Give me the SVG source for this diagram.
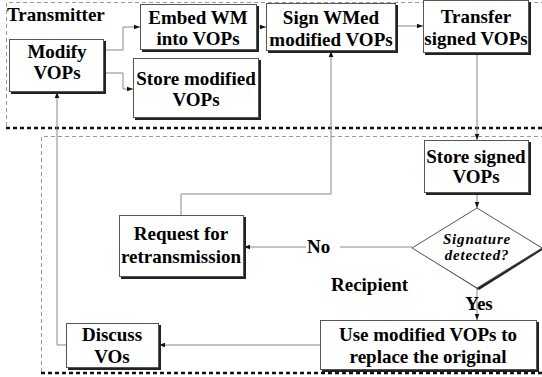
<svg xmlns="http://www.w3.org/2000/svg" width="542" height="377" viewBox="0 0 542 377">
<defs>
<style>
.t{text-anchor:middle}
.it{font-style:italic;font-size:15px;text-anchor:middle;letter-spacing:0.8px}
.box{fill:#fff;stroke:#555;stroke-width:1}
.sh{fill:#222}
.c{fill:none;stroke:#888;stroke-width:1}
.dz{fill:none;stroke:#999;stroke-width:1;stroke-dasharray:4 3}
.db{fill:none;stroke:#111;stroke-width:2.5;stroke-dasharray:4 3}
</style>
<marker id="a" viewBox="0 0 8 8" refX="8" refY="4" markerWidth="6" markerHeight="6" orient="auto" markerUnits="userSpaceOnUse">
<path d="M0,1 L8,4 L0,7 Z" fill="#111"/>
</marker>
</defs>
<rect width="542" height="377" fill="#fff"/>
<g font-family="Liberation Serif, Times New Roman, serif" font-weight="bold" font-size="19">

<g id="regions">
<path class="dz" d="M545,2.5 H6.5 V127"/>
<path class="db" d="M6,128 H545"/>
<path class="dz" d="M545,136.5 H41.5 V372"/>
<path class="db" d="M41,373 H545"/>
<text x="7" y="21">Transmitter</text>
<text x="331" y="291">Recipient</text>
</g>

<g id="connectors">
<path class="c" d="M104,50 H123 V27 H140" marker-end="url(#a)"/>
<path class="c" d="M104,73 H123 V89 H133" marker-end="url(#a)"/>
<path class="c" d="M257,27 H266" marker-end="url(#a)"/>
<path class="c" d="M396,26 H423" marker-end="url(#a)"/>
<path class="c" d="M477,53 V140" marker-end="url(#a)"/>
<path class="c" d="M477,193 V208" marker-end="url(#a)"/>
<path class="c" d="M412,247 H340 M306,247 H244" marker-end="url(#a)"/>
<path class="c" d="M181,215 V194 H331 V51" marker-end="url(#a)"/>
<path class="c" d="M477,288 V320" marker-end="url(#a)"/>
<path class="c" d="M320,345 H159" marker-end="url(#a)"/>
<path class="c" d="M66,345 H57 V92" marker-end="url(#a)"/>
<text x="307" y="253">No</text>
<text class="t" x="479" y="310">Yes</text>
</g>

<g id="modify">
<rect class="sh" x="11" y="41" width="95" height="53"/>
<rect class="box" x="9.5" y="39.5" width="94" height="52"/>
<text class="t" x="57" y="58">Modify</text>
<text class="t" x="57" y="79">VOPs</text>
</g>

<g id="embed">
<rect class="sh" x="142" y="6" width="117" height="46"/>
<rect class="box" x="140.5" y="4.5" width="116" height="45"/>
<text class="t" x="198" y="24">Embed WM</text>
<text class="t" x="198" y="45">into VOPs</text>
</g>

<g id="storemod">
<rect class="sh" x="135" y="60" width="126" height="60"/>
<rect class="box" x="133.5" y="58.5" width="125" height="59"/>
<text class="t" x="196" y="85">Store modified</text>
<text class="t" x="196" y="106">VOPs</text>
</g>

<g id="sign">
<rect class="sh" x="268" y="5" width="130" height="48"/>
<rect class="box" x="266.5" y="3.5" width="129" height="47"/>
<text class="t" x="331" y="24">Sign WMed</text>
<text class="t" x="331" y="46">modified VOPs</text>
</g>

<g id="transfer">
<rect class="sh" x="425" y="2" width="106" height="53"/>
<rect class="box" x="423.5" y="0.5" width="105" height="52"/>
<text class="t" x="476" y="23">Transfer</text>
<text class="t" x="476" y="45">signed VOPs</text>
</g>

<g id="storesigned">
<rect class="sh" x="426" y="142" width="105" height="53"/>
<rect class="box" x="424.5" y="140.5" width="104" height="52"/>
<text class="t" x="476" y="163">Store signed</text>
<text class="t" x="476" y="183">VOPs</text>
</g>

<g id="decision">
<polygon points="479,210 544,249 479,290 414,249" fill="#222"/>
<polygon points="477,208 542,248 477,288 412,248" fill="#fff" stroke="#555" stroke-width="1"/>
<text class="it" x="477" y="244">Signature</text>
<text class="it" x="477" y="260">detected?</text>
</g>

<g id="request">
<rect class="sh" x="121" y="217" width="125" height="62"/>
<rect class="box" x="119.5" y="215.5" width="124" height="61"/>
<text class="t" x="181" y="240">Request for</text>
<text class="t" x="181" y="263">retransmission</text>
</g>

<g id="discuss">
<rect class="sh" x="68" y="325" width="93" height="45"/>
<rect class="box" x="66.5" y="323.5" width="92" height="44"/>
<text class="t" x="112" y="341">Discuss</text>
<text class="t" x="112" y="363">VOs</text>
</g>

<g id="use">
<rect class="sh" x="322" y="322" width="217" height="50"/>
<rect class="box" x="320.5" y="320.5" width="216" height="49"/>
<text class="t" x="428" y="341">Use modified VOPs to</text>
<text class="t" x="428" y="363">replace the original</text>
</g>
</g>
</svg>
